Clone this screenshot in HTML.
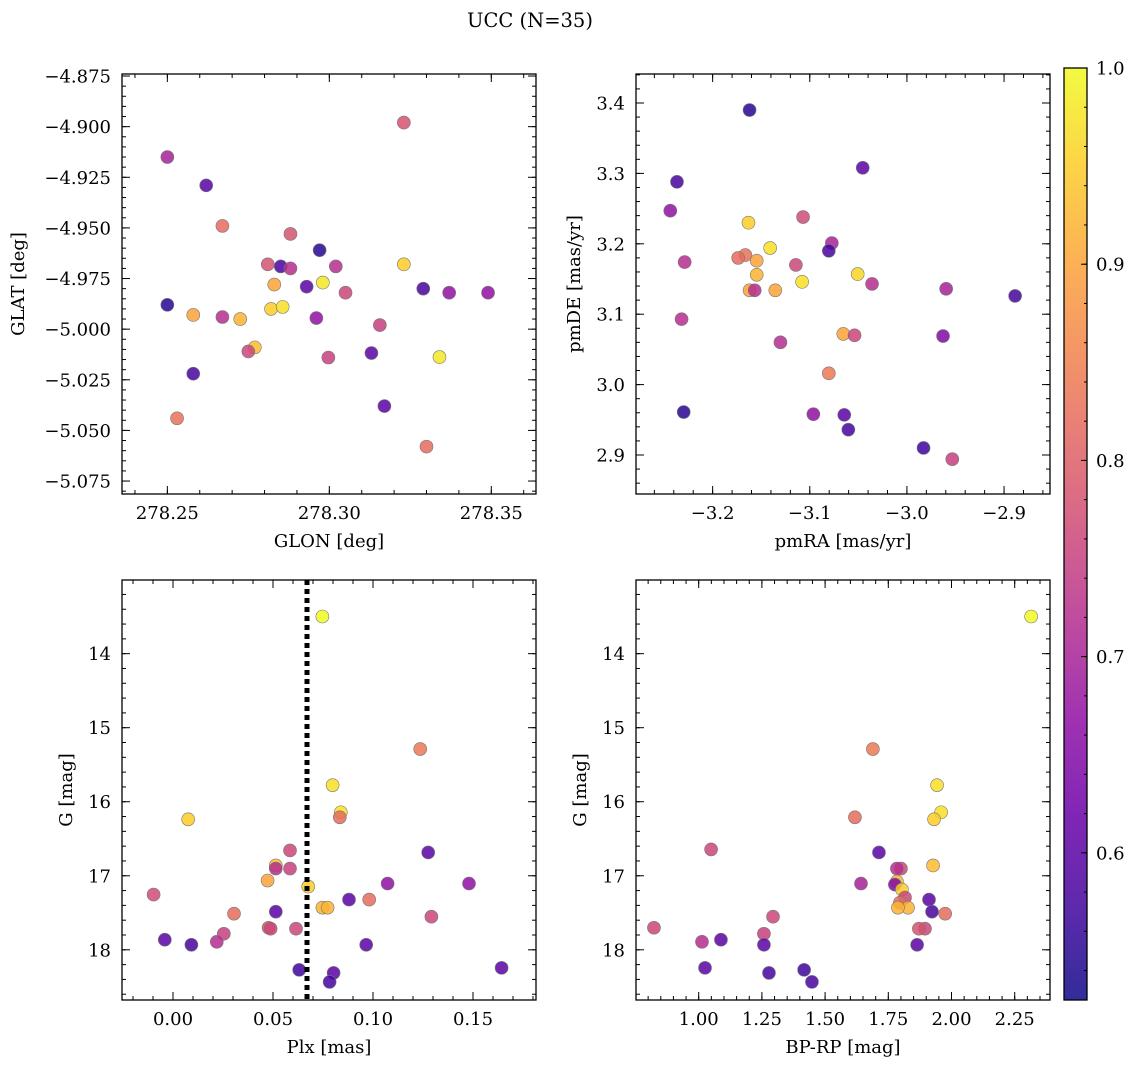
<!DOCTYPE html>
<html><head><meta charset="utf-8"><style>
body{margin:0;background:#fff;}
svg{display:block;font-family:"DejaVu Serif","Liberation Serif",serif;}
</style></head><body>
<svg id="fig" width="1136" height="1068" xmlns="http://www.w3.org/2000/svg">
<text x="530" y="27" font-size="19.5" text-anchor="middle">UCC (N=35)</text>
</svg>
<script>
// Panel 1: GLON vs GLAT
const glon=[278.250,278.262,278.267,278.288,278.297,278.281,278.285,278.288,278.302,278.323,278.298,278.283,278.293,278.305,278.329,278.337,278.349,278.250,278.258,278.267,278.282,278.2856,278.2725,278.296,278.3156,278.277,278.275,278.2997,278.313,278.334,278.258,278.317,278.253,278.330,278.323];
const glat=[-4.915,-4.929,-4.949,-4.953,-4.961,-4.968,-4.969,-4.970,-4.969,-4.968,-4.977,-4.978,-4.979,-4.982,-4.980,-4.982,-4.982,-4.988,-4.993,-4.994,-4.990,-4.989,-4.995,-4.9945,-4.998,-5.009,-5.011,-5.014,-5.0118,-5.0138,-5.022,-5.038,-5.044,-5.058,-4.898];
const prob1=[0.70,0.60,0.82,0.78,0.55,0.78,0.58,0.72,0.72,0.95,0.98,0.90,0.60,0.76,0.58,0.67,0.67,0.55,0.90,0.72,0.95,0.97,0.92,0.67,0.75,0.93,0.76,0.75,0.60,0.98,0.58,0.60,0.83,0.82,0.78];
// Panel 2: pmRA vs pmDE
const pmra=[-3.162,-3.0455,-3.2367,-3.2436,-3.1069,-3.1631,-3.0773,-3.1408,-3.0804,-3.2288,-3.1663,-3.1737,-3.1546,-3.1143,-3.1546,-3.0507,-3.1079,-3.0359,-3.162,-3.1567,-3.1355,-2.9596,-2.8886,-3.232,-3.0655,-3.0539,-2.9628,-3.1302,-3.0804,-3.2298,-3.0645,-3.0963,-3.0603,-2.9829,-2.9533];
const pmde=[3.390,3.308,3.288,3.247,3.238,3.230,3.201,3.194,3.190,3.174,3.184,3.180,3.176,3.170,3.156,3.157,3.146,3.143,3.134,3.134,3.134,3.136,3.126,3.093,3.072,3.070,3.069,3.060,3.016,2.961,2.957,2.958,2.936,2.910,2.894];
const prob2=[0.55,0.60,0.58,0.67,0.77,0.95,0.70,0.97,0.58,0.72,0.83,0.82,0.90,0.76,0.92,0.96,0.97,0.72,0.90,0.72,0.90,0.70,0.58,0.72,0.90,0.76,0.65,0.72,0.84,0.55,0.60,0.67,0.58,0.57,0.75];
// Panel 3: Plx vs G
const plx=[0.0747,0.1236,0.0798,0.0839,0.0834,0.0076,0.1276,0.0585,0.0514,0.0514,0.0585,0.0473,0.1073,0.148,0.0676,-0.0097,0.0981,0.0880,0.0747,0.0773,0.0305,0.0514,0.1292,0.0478,0.0488,0.0615,0.0254,-0.0041,0.0219,0.0092,0.0966,0.0631,0.0803,0.1643,0.0783];
const gmag3=[13.498,15.288,15.776,16.142,16.210,16.237,16.685,16.658,16.861,16.902,16.902,17.064,17.105,17.105,17.146,17.254,17.322,17.322,17.431,17.431,17.512,17.485,17.553,17.702,17.715,17.715,17.783,17.864,17.892,17.932,17.932,18.271,18.312,18.244,18.434];
const prob3=[1.0,0.84,0.97,0.97,0.82,0.95,0.60,0.76,0.93,0.72,0.75,0.90,0.67,0.67,0.95,0.77,0.82,0.60,0.92,0.92,0.82,0.60,0.76,0.78,0.76,0.76,0.75,0.60,0.72,0.58,0.60,0.57,0.60,0.60,0.58];
const plxLine=0.067;
// Panel 4: BP-RP vs G
const bprp=[2.315,1.689,1.943,1.959,1.618,1.931,1.713,1.049,1.927,1.642,1.800,1.784,1.784,1.776,1.804,1.816,1.911,1.796,1.828,1.788,1.923,1.975,1.294,0.823,1.895,1.871,1.258,1.013,1.088,1.258,1.864,1.025,1.278,1.417,1.448];
const gmag4=[13.498,15.288,15.776,16.142,16.210,16.237,16.685,16.644,16.861,17.105,16.902,16.902,17.078,17.119,17.186,17.295,17.322,17.363,17.431,17.431,17.485,17.512,17.553,17.702,17.715,17.715,17.783,17.892,17.864,17.932,17.932,18.244,18.312,18.271,18.434];
const prob4=[1.0,0.84,0.97,0.97,0.82,0.95,0.60,0.76,0.93,0.70,0.76,0.72,0.92,0.65,0.95,0.76,0.60,0.82,0.92,0.92,0.58,0.82,0.76,0.76,0.76,0.78,0.75,0.72,0.60,0.60,0.60,0.60,0.58,0.57,0.58];
const cbTicks=[0.6,0.7,0.8,0.9,1.0];

const NS="http://www.w3.org/2000/svg";
const svg=document.getElementById('fig');
function mk(tag,attrs,parent){const e=document.createElementNS(NS,tag);for(const k in attrs)e.setAttribute(k,attrs[k]);(parent||svg).appendChild(e);return e;}
const stops=[[13,8,135],[65,4,157],[106,0,168],[143,13,164],[177,42,144],[204,71,120],[225,100,98],[242,132,75],[252,166,54],[252,206,37],[240,249,33]];
function plasma(t){t=Math.max(0,Math.min(1,t));const f=t*10,i=Math.min(9,Math.floor(f)),r=f-i;const a=stops[i],b=stops[i+1];return 'rgb('+a.map((v,k)=>Math.round(v+(b[k]-v)*r)).join(',')+')';}
const VMIN=0.525,VMAX=1.0;
function cmap(v){return plasma((v-VMIN)/(VMAX-VMIN));}
const FS=18;

function panel(o){
  const g=mk('g',{});
  
  
  const sx=v=>o.x0+(v-o.xmin)/(o.xmax-o.xmin)*(o.x1-o.x0);
  const sy=o.yinv?(v=>o.y0+(v-o.ymin)/(o.ymax-o.ymin)*(o.y1-o.y0)):(v=>o.y1-(v-o.ymin)/(o.ymax-o.ymin)*(o.y1-o.y0));
  const dg=mk('g',{},g);
  
  
  if(o.vline!==undefined){
    const l=mk('line',{x1:sx(o.vline),x2:sx(o.vline),y1:o.y0,y2:o.y1,stroke:'#000','stroke-width':5,'stroke-dasharray':'5,4'},g);
    
    
  }
  for(let i=0;i<o.xs.length;i++){
    const c=mk('circle',{cx:sx(o.xs[i]),cy:sy(o.ys[i]),r:6.5,fill:cmap(o.cs[i]),'fill-opacity':0.85,stroke:'#777','stroke-width':0.6},dg);
    
    
  }
  const tg=mk('g',{stroke:'#000','stroke-width':1},g);
  const eps=1e-9;
  function ticks(min,max,step){const a=[];let s=Math.ceil(min/step-eps);for(let v=s*step;v<=max+eps;v=(++s)*step)a.push(+v.toFixed(6));return a;}
  ticks(o.xmin,o.xmax,o.xminor).forEach(v=>{const x=sx(v);mk('line',{x1:x,x2:x,y1:o.y1,y2:o.y1-4},tg);mk('line',{x1:x,x2:x,y1:o.y0,y2:o.y0+4},tg);});
  ticks(o.ymin,o.ymax,o.yminor).forEach(v=>{const y=sy(v);mk('line',{x1:o.x0,x2:o.x0+4,y1:y,y2:y},tg);mk('line',{x1:o.x1,x2:o.x1-4,y1:y,y2:y},tg);});
  ticks(o.xmin,o.xmax,o.xmajor).forEach(v=>{const x=sx(v);mk('line',{x1:x,x2:x,y1:o.y1,y2:o.y1-8},tg);mk('line',{x1:x,x2:x,y1:o.y0,y2:o.y0+8},tg);
    const t=mk('text',{x:x,y:o.y1+25,'font-size':FS,'text-anchor':'middle'},g);t.textContent=(v<0?'\u2212':'')+Math.abs(v).toFixed(o.xdec);
    });
  ticks(o.ymin,o.ymax,o.ymajor).forEach(v=>{const y=sy(v);mk('line',{x1:o.x0,x2:o.x0+8,y1:y,y2:y},tg);mk('line',{x1:o.x1,x2:o.x1-8,y1:y,y2:y},tg);
    const t=mk('text',{x:o.x0-11,y:y+6.5,'font-size':FS,'text-anchor':'end'},g);t.textContent=(v<0?'\u2212':'')+Math.abs(v).toFixed(o.ydec);
    });
  const fr=mk('rect',{x:o.x0,y:o.y0,width:o.x1-o.x0,height:o.y1-o.y0,fill:'none',stroke:'#000','stroke-width':1.3},g);
  
  const xl=mk('text',{x:(o.x0+o.x1)/2,y:o.y1+53,'font-size':FS,'text-anchor':'middle'},g);xl.textContent=o.xlabel;
  
  const yc=(o.y0+o.y1)/2;
  const yl=mk('text',{x:o.ylx,y:yc,'font-size':FS,'text-anchor':'middle',transform:'rotate(-90 '+o.ylx+' '+yc+')'},g);yl.textContent=o.ylabel;
  
}
panel({name:'glon-glat-panel',x0:122,x1:536,y0:74,y1:494,xmin:278.2360,xmax:278.3638,ymin:-5.0814,ymax:-4.874,xmajor:0.05,xminor:0.01,ymajor:0.025,yminor:0.005,xdec:2,ydec:3,xs:glon,ys:glat,cs:prob1,xlabel:'GLON [deg]',ylabel:'GLAT [deg]',ylx:24});
panel({name:'pm-panel',x0:636,x1:1050,y0:74,y1:494,xmin:-3.2789,xmax:-2.8527,ymin:2.8446,ymax:3.4412,xmajor:0.1,xminor:0.02,ymajor:0.1,yminor:0.02,xdec:1,ydec:1,xs:pmra,ys:pmde,cs:prob2,xlabel:'pmRA [mas/yr]',ylabel:'pmDE [mas/yr]',ylx:580});
panel({name:'plx-g-panel',x0:122,x1:536,y0:580,y1:1000,xmin:-0.0255,xmax:0.1815,ymin:13.005,ymax:18.678,yinv:true,xmajor:0.05,xminor:0.01,ymajor:1,yminor:0.2,xdec:2,ydec:0,xs:plx,ys:gmag3,cs:prob3,xlabel:'Plx [mas]',ylabel:'G [mag]',ylx:72,vline:plxLine});
panel({name:'cmd-panel',x0:636,x1:1050,y0:580,y1:1000,xmin:0.752,xmax:2.3896,ymin:13.005,ymax:18.678,yinv:true,xmajor:0.25,xminor:0.05,ymajor:1,yminor:0.2,xdec:2,ydec:0,xs:bprp,ys:gmag4,cs:prob4,xlabel:'BP-RP [mag]',ylabel:'G [mag]',ylx:586});

const cb=mk('g',{});


const cx0=1064,cx1=1087,cy0=68,cy1=1000;
const defs=mk('defs',{},cb);
const grad=mk('linearGradient',{id:'pg',x1:0,y1:1,x2:0,y2:0},defs);
for(let i=0;i<=20;i++)mk('stop',{offset:(i/20),'stop-color':plasma(i/20),'stop-opacity':0.85},grad);
mk('rect',{x:cx0,y:cy0,width:cx1-cx0,height:cy1-cy0,fill:'url(#pg)'},cb);
const csy=v=>cy1-(v-VMIN)/(VMAX-VMIN)*(cy1-cy0);
for(let k=Math.ceil(VMIN/0.02-1e-9);k*0.02<=VMAX+1e-9;k++){const y=csy(k*0.02);mk('line',{x1:cx1,x2:cx1-3,y1:y,y2:y,stroke:'#000'},cb);}
cbTicks.forEach(v=>{const y=csy(v);mk('line',{x1:cx1,x2:cx1-6,y1:y,y2:y,stroke:'#000'},cb);
  const t=mk('text',{x:cx1+9,y:y+6.5,'font-size':FS},cb);t.textContent=v.toFixed(1);
  });
mk('rect',{x:cx0,y:cy0,width:cx1-cx0,height:cy1-cy0,fill:'none',stroke:'#000','stroke-width':1.3},cb);
</script>
</body></html>
